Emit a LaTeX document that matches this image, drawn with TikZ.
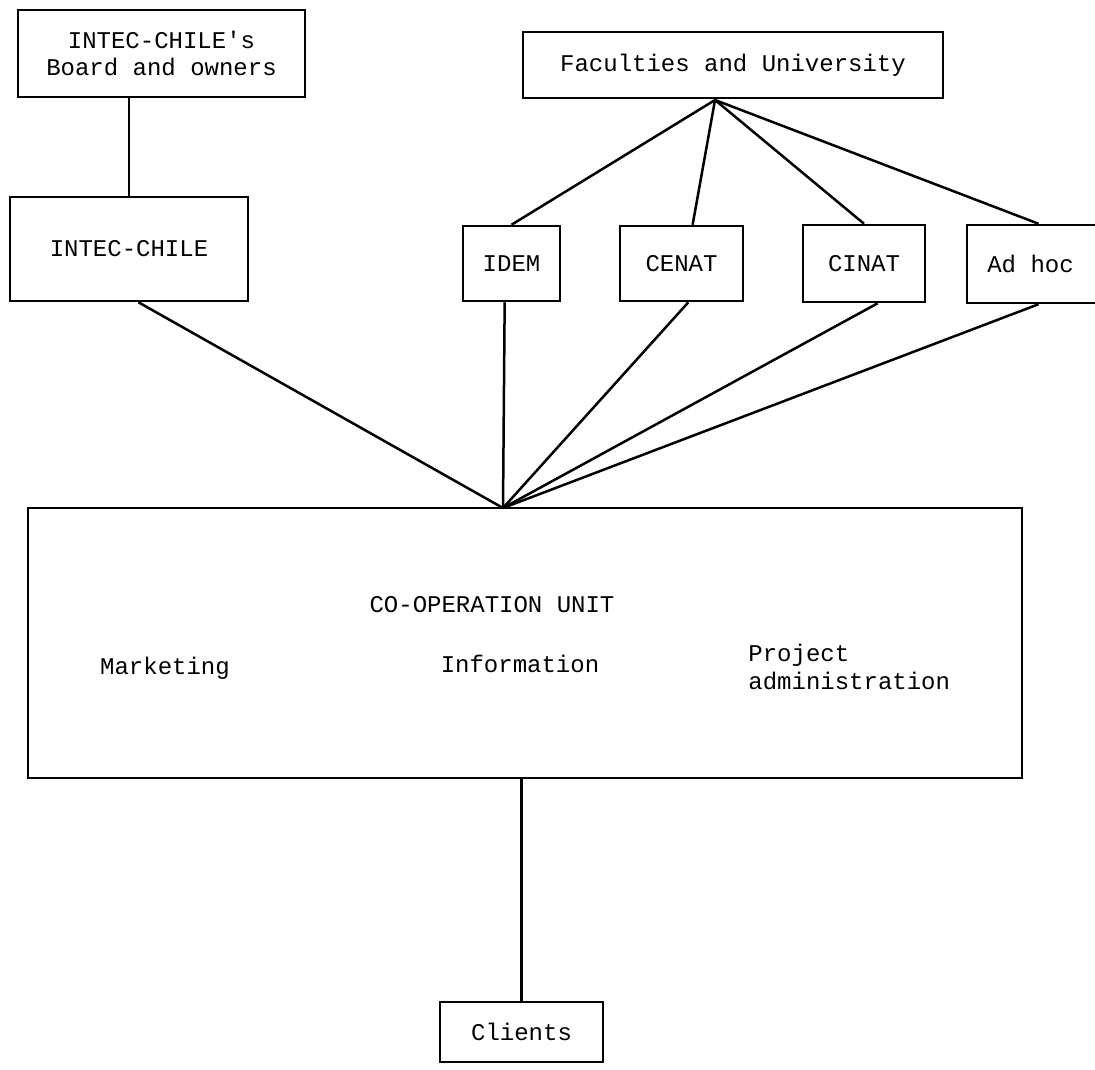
\documentclass[tikz,border=0pt]{standalone}
\usepackage{fontspec}
\setmonofont{Liberation Mono}
\tikzset{
	unitbox/.style={draw, line width=1.25pt, inner sep=0pt, align=center, font=\ttfamily\fontsize{12}{13.6}\selectfont},
	unittext/.style={inner sep=0pt, align=left, font=\ttfamily\fontsize{12}{13.6}\selectfont},
	link/.style={line width=1.25pt}
}
\begin{document}
\begin{tikzpicture}[x=0.5pt, y=-0.5pt]
			\clip (0,0) rectangle (1095,1069);
			\fill[white] (0,0) rectangle (1095,1069);
			% top row
			\node[unitbox, minimum width=143.5pt, minimum height=43.5pt] (board) at (161.5,53.5) {INTEC-CHILE's\\Board and owners};
			\node[unitbox, minimum width=210pt, minimum height=33pt] (fac) at (733,65) {Faculties and University};
			% middle row
			\node[unitbox, minimum width=119pt, minimum height=52pt] (intec) at (129,249) {INTEC-CHILE};
			\node[unitbox, minimum width=48.5pt, minimum height=37.5pt] (idem) at (511.5,263.5) {IDEM};
			\node[unitbox, minimum width=61.5pt, minimum height=37.5pt] (cenat) at (681.5,263.5) {CENAT};
			\node[unitbox, minimum width=61pt, minimum height=38.5pt] (cinat) at (864,263.5) {CINAT};
			\node[unitbox, minimum width=71.5pt, minimum height=39pt] (adhoc) at (1038.5,264) {Ad hoc\hspace{8pt}};
			% co-operation unit
			\node[unitbox, minimum width=497pt, minimum height=135pt] (coop) at (525,643) {};
			\node[unittext] (cotitle) at (492,605) {CO-OPERATION UNIT};
			\node[unittext] (market) at (165,668) {Marketing};
			\node[unittext] (info) at (520,664) {Information};
			\node[unittext, anchor=west] (proj) at (748,667) {Project\\administration};
			\node[unitbox, minimum width=81.5pt, minimum height=30pt] (clients) at (521.5,1032) {Clients};
			\coordinate (facapex) at (715,100);
			\coordinate (coopapex) at (503,508);
			% connectors
			\draw[link] (intec.north) -- (intec.north |- board.south);
			\draw[link] (facapex) -- (idem.north);
			\draw[link] (facapex) -- (cenat.74);
			\draw[link] (facapex) -- (cinat.north);
			\draw[link] (facapex) -- (adhoc.north);
			\draw[link] (intec.-80) -- (coopapex);
			\draw[link] (idem.-100) -- (coopapex);
			\draw[link] (cenat.-80) -- (coopapex);
			\draw[link] (cinat.-71) -- (coopapex);
			\draw[link] (adhoc.south) -- (coopapex);
			\draw[link] (clients.north) -- (clients.north |- coop.south);
\end{tikzpicture}
\end{document}
